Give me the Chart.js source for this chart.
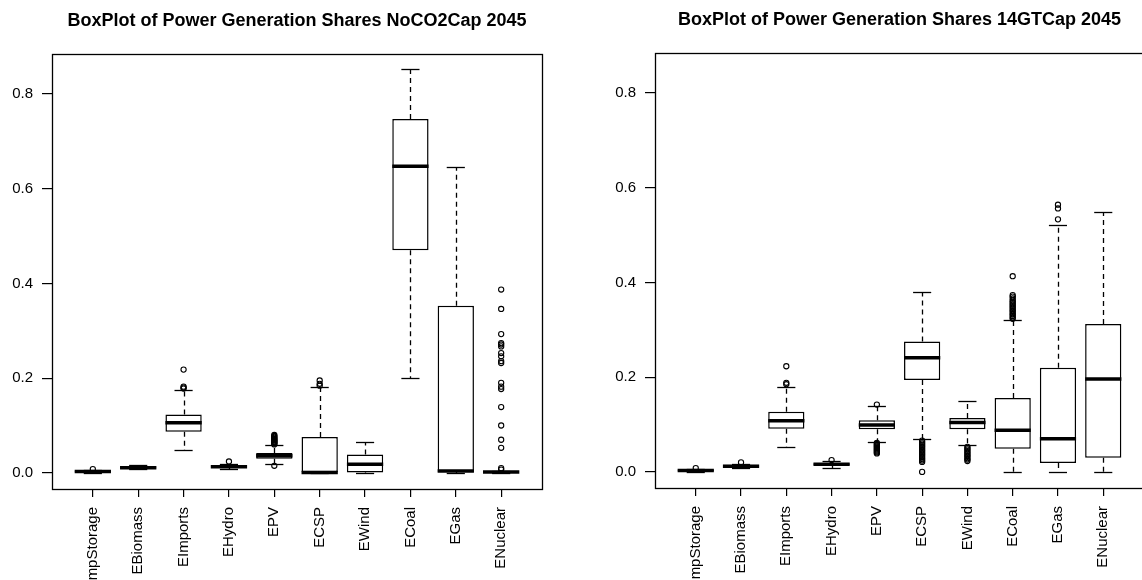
<!DOCTYPE html>
<html>
<head>
<meta charset="utf-8">
<script src="https://cdn.jsdelivr.net/npm/chart.js@4.4.0/dist/chart.umd.min.js"></script>
<style>
  html, body { margin: 0; padding: 0; background: #fff; overflow: hidden; }
  body { width: 1142px; height: 580px; position: relative; }
  .panel { position: absolute; }
  #panelA { left: 0; top: 0; width: 570px; height: 580px; }
  #panelB { left: 570px; top: -1px; width: 600px; height: 580px; }
</style>
</head>
<body>
<div class="panel" id="panelA"><canvas id="chartA"></canvas></div>
<div class="panel" id="panelB"><canvas id="chartB"></canvas></div>
<script>
const categories = ['EPumpStorage', 'EBiomass', 'EImports', 'EHydro', 'EPV', 'ECSP', 'EWind', 'ECoal', 'EGas', 'ENuclear'];
const yTicks = [0, 0.2, 0.4, 0.6, 0.8];

// NoCO2Cap 2045
const lowA  = [0.000, 0.008, 0.049, 0.009, 0.019, 0.000, 0.000, 0.200, 0.000, 0.000];
const q1A   = [0.002, 0.009, 0.087, 0.011, 0.030, 0.000, 0.001, 0.470, 0.002, 0.000];
const medA  = [0.003, 0.011, 0.106, 0.013, 0.036, 0.001, 0.018, 0.647, 0.004, 0.002];
const q3A   = [0.005, 0.014, 0.123, 0.016, 0.042, 0.076, 0.039, 0.747, 0.353, 0.003];
const highA = [0.007, 0.016, 0.176, 0.018, 0.059, 0.182, 0.065, 0.853, 0.645, 0.005];
const outA = [
  [0.008],
  [],
  [0.178, 0.180, 0.182, 0.218],
  [0.024],
  [0.015, 0.060, 0.062, 0.063, 0.065, 0.066, 0.068, 0.069, 0.071, 0.072, 0.074, 0.076, 0.078, 0.080],
  [0.184, 0.188, 0.195],
  [],
  [],
  [],
  [0.007, 0.010, 0.053, 0.070, 0.100, 0.139, 0.177, 0.182, 0.190, 0.232, 0.236, 0.246, 0.253, 0.267, 0.271, 0.274, 0.293, 0.346, 0.387]
];

// 14GTCap 2045
const lowB  = [0.000, 0.008, 0.053, 0.008, 0.063, 0.070, 0.056, 0.000, 0.000, 0.000];
const q1B   = [0.002, 0.010, 0.091, 0.014, 0.090, 0.194, 0.090, 0.049, 0.019, 0.030];
const medB  = [0.003, 0.012, 0.108, 0.016, 0.099, 0.241, 0.104, 0.088, 0.070, 0.196];
const q3B   = [0.005, 0.015, 0.127, 0.018, 0.109, 0.275, 0.114, 0.156, 0.220, 0.312];
const highB = [0.007, 0.017, 0.180, 0.022, 0.139, 0.379, 0.149, 0.320, 0.522, 0.548];
const outB = [
  [0.008],
  [0.020],
  [0.185, 0.188, 0.223],
  [0.025],
  [0.142, 0.039, 0.041, 0.043, 0.045, 0.047, 0.049, 0.051, 0.053, 0.055, 0.057, 0.059, 0.061],
  [0.000, 0.021, 0.024, 0.027, 0.030, 0.033, 0.036, 0.039, 0.042, 0.045, 0.048, 0.051, 0.054, 0.057, 0.060, 0.063, 0.066],
  [0.023, 0.026, 0.029, 0.032, 0.035, 0.038, 0.041, 0.044, 0.047, 0.050, 0.053],
  [0.323, 0.326, 0.329, 0.332, 0.335, 0.338, 0.341, 0.344, 0.347, 0.350, 0.353, 0.356, 0.359, 0.362, 0.366, 0.370, 0.373, 0.413],
  [0.533, 0.556, 0.564],
  []
];

const FONT = "'Liberation Sans', Arial, sans-serif";

function boxPlotPlugin(low, med, high) {
  return {
    id: 'boxWhiskers',
    afterDatasetDraw(chart, args) {
      if (args.index !== 0) return;
      const x = chart.scales.x, y = chart.scales.y;
      const ctx = chart.ctx;
      const bars = chart.getDatasetMeta(0).data;
      const line = (x1, y1, x2, y2) => {
        ctx.beginPath();
        ctx.moveTo(x1, y1);
        ctx.lineTo(x2, y2);
        ctx.stroke();
      };
      ctx.save();
      ctx.strokeStyle = '#000';
      bars.forEach((bar, i) => {
        const cx = Math.round(x.getPixelForValue(i + 1)) + 0.5;
        const capL = x.getPixelForValue(i + 0.8), capR = x.getPixelForValue(i + 1.2);
        const yLo = Math.round(y.getPixelForValue(low[i])) + 0.5;
        const yHi = Math.round(y.getPixelForValue(high[i])) + 0.5;
        const top = Math.min(bar.y, bar.base), bottom = Math.max(bar.y, bar.base);
        ctx.lineWidth = 1.3;
        ctx.setLineDash([5, 4]);
        if (yHi < top) line(cx, top, cx, yHi);
        if (yLo > bottom) line(cx, bottom, cx, yLo);
        ctx.setLineDash([]);
        line(capL, yHi, capR, yHi);
        line(capL, yLo, capR, yLo);
        ctx.lineWidth = 3.5;
        const yMed = y.getPixelForValue(med[i]);
        line(bar.x - bar.width / 2, yMed, bar.x + bar.width / 2, yMed);
      });
      ctx.restore();
    }
  };
}

const framePlugin = {
  id: 'frame',
  afterDraw(chart) {
    const a = chart.chartArea;
    const ctx = chart.ctx;
    ctx.save();
    ctx.strokeStyle = '#000';
    ctx.lineWidth = 1.3;
    ctx.strokeRect(Math.round(a.left) + 0.5, Math.round(a.top) + 0.5, Math.round(a.right - a.left), Math.round(a.bottom - a.top));
    ctx.restore();
  }
};

function makeChart(id, title, low, q1, med, q3, high, outliers, yWidth, rightPad) {
  const boxes = categories.map((c, i) => ({ x: i + 1, y: [q1[i], q3[i]] }));
  const points = outliers.flatMap((list, i) => list.map(v => ({ x: i + 1, y: v })));
  return new Chart(document.getElementById(id), {
    type: 'bar',
    data: {
      datasets: [{
        type: 'bar',
        data: boxes,
        backgroundColor: '#fff',
        borderColor: '#000',
        borderWidth: 1.5,
        borderSkipped: false,
        categoryPercentage: 0.8,
        barPercentage: 1.0,
        order: 2
      }, {
        type: 'scatter',
        data: points,
        pointStyle: 'circle',
        pointRadius: 2.6,
        pointBorderWidth: 1.1,
        pointBorderColor: '#000',
        pointBackgroundColor: 'rgba(0,0,0,0)',
        order: 1
      }]
    },
    options: {
      responsive: true,
      maintainAspectRatio: false,
      animation: false,
      layout: { padding: { left: 0, right: rightPad, top: 0, bottom: 0 } },
      plugins: {
        legend: { display: false },
        tooltip: { enabled: false },
        title: {
          display: true,
          text: title,
          fullSize: false,
          color: '#000',
          font: { family: FONT, size: 18, weight: 'bold', lineHeight: 1.2 },
          padding: { top: 10, bottom: 22 }
        }
      },
      scales: {
        x: {
          type: 'linear',
          min: 0.1,
          max: 10.9,
          offset: false,
          afterBuildTicks: (scale) => { scale.ticks = categories.map((c, i) => ({ value: i + 1 })); },
          afterFit: (scale) => { scale.height = 91; },
          grid: { offset: false, drawOnChartArea: false, color: '#000', tickLength: 8, lineWidth: 1.2 },
          border: { display: false },
          ticks: {
            autoSkip: false,
            minRotation: 90,
            maxRotation: 90,
            padding: 10,
            color: '#000',
            font: { family: FONT, size: 15 },
            callback: (v) => categories[Math.round(v) - 1]
          }
        },
        y: {
          type: 'linear',
          min: -0.034,
          max: 0.885,
          afterBuildTicks: (scale) => { scale.ticks = yTicks.map(v => ({ value: v })); },
          afterFit: (scale) => { scale.width = yWidth; },
          grid: { drawOnChartArea: false, color: '#000', tickLength: 10, lineWidth: 1.2 },
          border: { display: false },
          ticks: {
            padding: 9,
            color: '#000',
            font: { family: FONT, size: 15 },
            callback: (v) => v.toFixed(1)
          }
        }
      }
    },
    plugins: [boxPlotPlugin(low, med, high), framePlugin]
  });
}

makeChart('chartA', 'BoxPlot of Power Generation Shares NoCO2Cap 2045', lowA, q1A, medA, q3A, highA, outA, 52, 28);
makeChart('chartB', 'BoxPlot of Power Generation Shares 14GTCap 2045', lowB, q1B, medB, q3B, highB, outB, 85, 26);
</script>
</body>
</html>
